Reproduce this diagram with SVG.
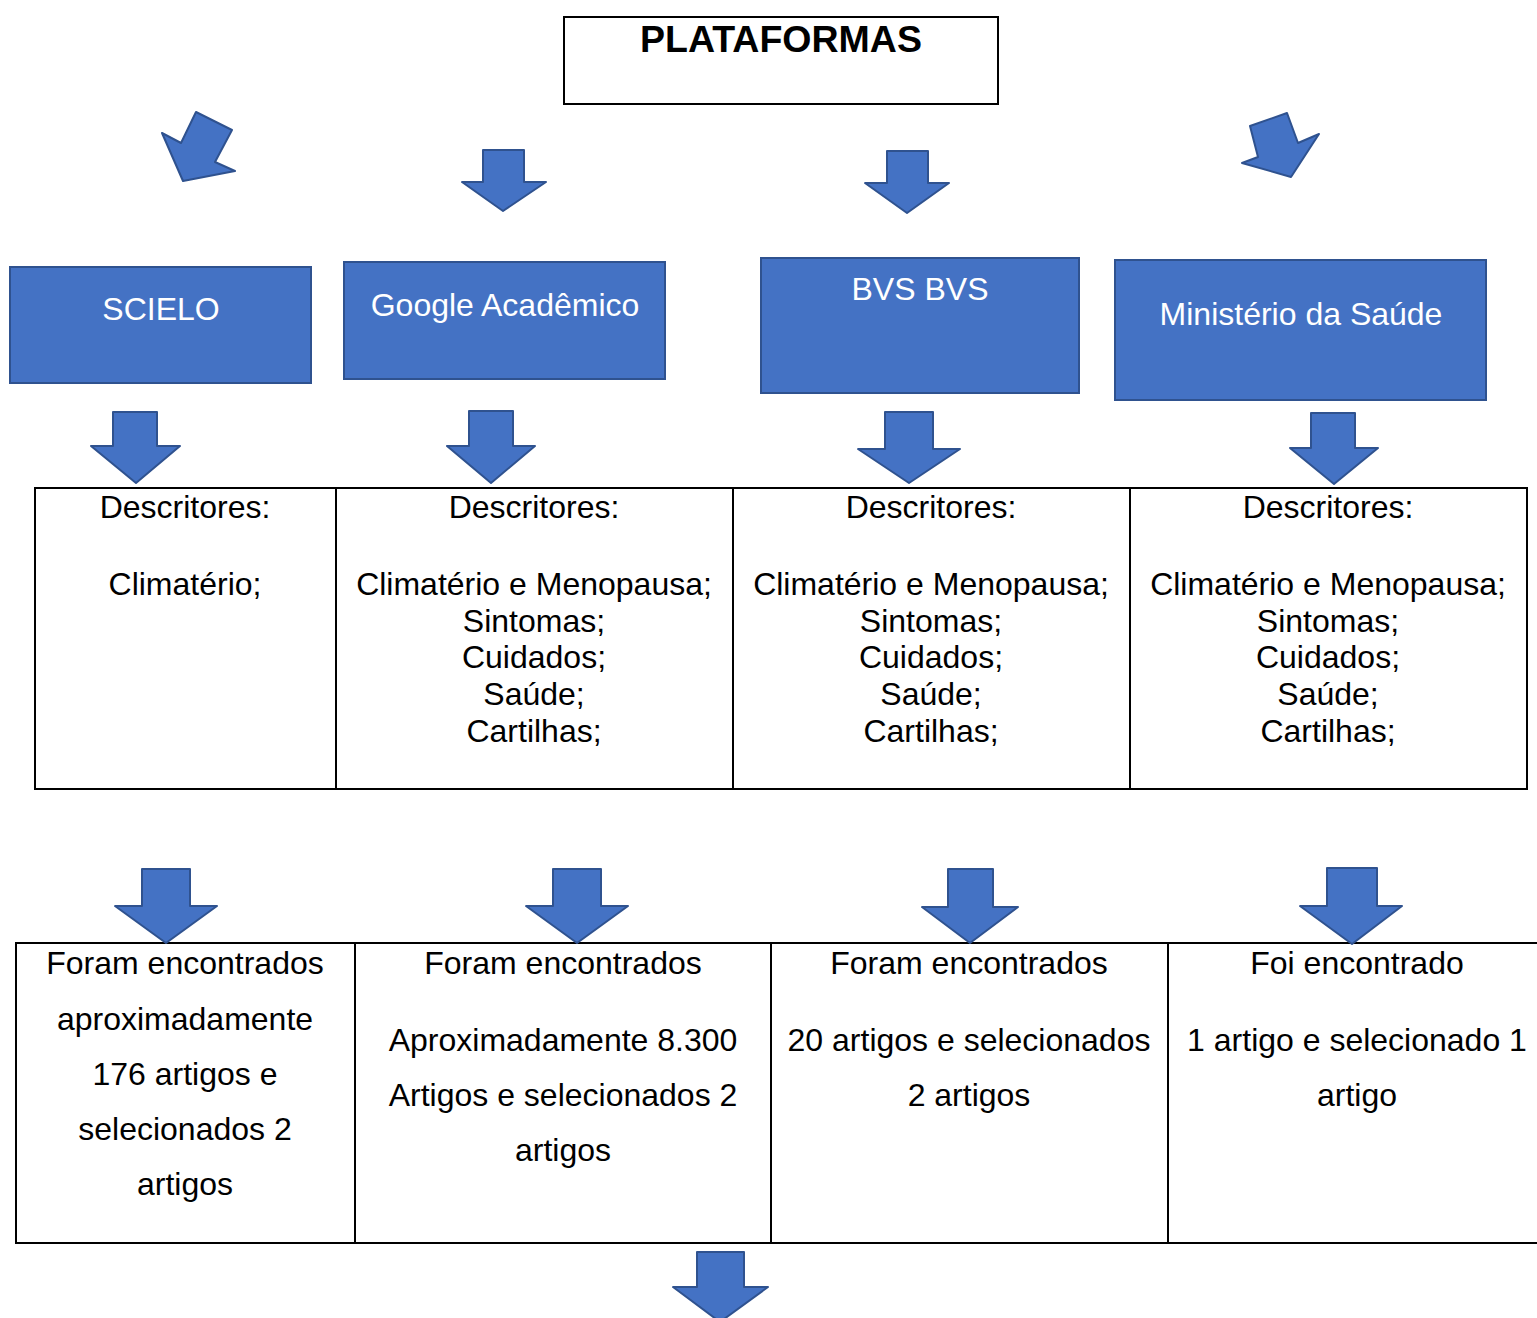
<svg xmlns="http://www.w3.org/2000/svg" width="1537" height="1318" viewBox="0 0 1537 1318">
<style>
text{font-family:"Liberation Sans",Arial,sans-serif;font-size:32px;fill:#000;text-anchor:middle}
.t{font-weight:bold;font-size:37.5px}
.w{fill:#fff}
.blue{fill:#4472C4;stroke:#2F528F;stroke-width:2}
.cell{fill:none;stroke:#000;stroke-width:2}
.arr{fill:#4472C4;stroke:#2F528F;stroke-width:2;stroke-linejoin:round}
</style>
<rect width="1537" height="1318" fill="#fff"/>
<g id="title">
<rect x="564" y="17" width="434" height="87" class="cell"/>
<text x="781" y="52" class="t">PLATAFORMAS</text>
</g>
<g id="scielo">
<rect x="10" y="267" width="301" height="116" class="blue"/>
<text x="161" y="320" class="w">SCIELO</text>
</g>
<g id="google">
<rect x="344" y="262" width="321" height="117" class="blue"/>
<text x="505" y="316" class="w">Google Acadêmico</text>
</g>
<g id="bvs">
<rect x="761" y="258" width="318" height="135" class="blue"/>
<text x="920" y="300" class="w">BVS BVS</text>
</g>
<g id="ministerio">
<rect x="1115" y="260" width="371" height="140" class="blue"/>
<text x="1301" y="325" class="w">Ministério da Saúde</text>
</g>
<g id="descritores">
<rect x="35" y="488" width="1492" height="301" class="cell"/>
<line x1="336" y1="488" x2="336" y2="789" class="cell"/>
<line x1="733" y1="488" x2="733" y2="789" class="cell"/>
<line x1="1130" y1="488" x2="1130" y2="789" class="cell"/>
<text x="185" y="518">Descritores:</text>
<text x="185" y="595">Climatério;</text>
<text x="534" y="518">Descritores:</text>
<text x="534" y="595">Climatério e Menopausa;</text>
<text x="534" y="632">Sintomas;</text>
<text x="534" y="668">Cuidados;</text>
<text x="534" y="705">Saúde;</text>
<text x="534" y="742">Cartilhas;</text>
<text x="931" y="518">Descritores:</text>
<text x="931" y="595">Climatério e Menopausa;</text>
<text x="931" y="632">Sintomas;</text>
<text x="931" y="668">Cuidados;</text>
<text x="931" y="705">Saúde;</text>
<text x="931" y="742">Cartilhas;</text>
<text x="1328" y="518">Descritores:</text>
<text x="1328" y="595">Climatério e Menopausa;</text>
<text x="1328" y="632">Sintomas;</text>
<text x="1328" y="668">Cuidados;</text>
<text x="1328" y="705">Saúde;</text>
<text x="1328" y="742">Cartilhas;</text>
</g>
<g id="resultados">
<rect x="16" y="943" width="1530" height="300" class="cell"/>
<line x1="355" y1="943" x2="355" y2="1243" class="cell"/>
<line x1="771" y1="943" x2="771" y2="1243" class="cell"/>
<line x1="1168" y1="943" x2="1168" y2="1243" class="cell"/>
<text x="185" y="974">Foram encontrados</text>
<text x="185" y="1030">aproximadamente</text>
<text x="185" y="1085">176 artigos e</text>
<text x="185" y="1140">selecionados 2</text>
<text x="185" y="1195">artigos</text>
<text x="563" y="974">Foram encontrados</text>
<text x="563" y="1051">Aproximadamente 8.300</text>
<text x="563" y="1106">Artigos e selecionados 2</text>
<text x="563" y="1161">artigos</text>
<text x="969" y="974">Foram encontrados</text>
<text x="969" y="1051">20 artigos e selecionados</text>
<text x="969" y="1106">2 artigos</text>
<text x="1357" y="974">Foi encontrado</text>
<text x="1357" y="1051">1 artigo e selecionado 1</text>
<text x="1357" y="1106">artigo</text>
</g>
<g id="connectors">
<polygon class="arr" points="196,112 232,130 215,162 235,171 183,181 162,133 181,143"/>
<polygon class="arr" points="483,150 524,150 524,182 546,182 503,211 462,182 483,182"/>
<polygon class="arr" points="887,151 928,151 928,183 949,183 907,213 865,183 887,183"/>
<polygon class="arr" points="1250,126 1287,113 1298,143 1319,134 1291,177 1242,163 1258,157"/>
<polygon class="arr" points="113,412 157,412 157,446 180,446 136,483 91,446 113,446"/>
<polygon class="arr" points="469,411 513,411 513,446 535,446 491,483 447,446 469,446"/>
<polygon class="arr" points="885,412 933,412 933,449 960,449 909,483 858,449 885,449"/>
<polygon class="arr" points="1311,413 1355,413 1355,448 1378,448 1334,484 1290,448 1311,448"/>
<polygon class="arr" points="142,869 190,869 190,906 217,906 166,943 115,906 142,906"/>
<polygon class="arr" points="553,869 601,869 601,906 628,906 577,943 526,906 553,906"/>
<polygon class="arr" points="948,869 993,869 993,907 1018,907 970,943 922,907 948,907"/>
<polygon class="arr" points="1327,868 1377,868 1377,906 1402,906 1352,944 1300,906 1327,906"/>
<polygon class="arr" points="697,1252 744,1252 744,1287 768,1287 720,1322 673,1287 697,1287"/>
</g>
</svg>
